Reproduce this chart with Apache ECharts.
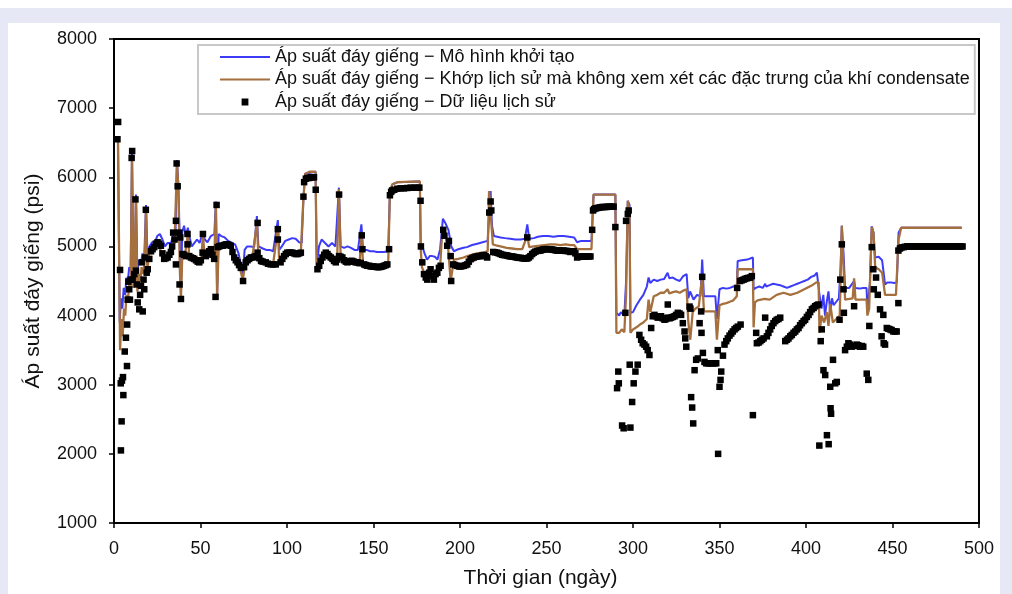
<!DOCTYPE html>
<html><head><meta charset="utf-8">
<script src="https://cdn.jsdelivr.net/npm/echarts@6/dist/echarts.min.js"></script>
<style>
html,body{margin:0;padding:0;background:#fff;width:1012px;height:594px;overflow:hidden;}
#bg{position:absolute;left:0;top:8px;width:1012px;height:586px;background:#e6e9f5;}
#panel{position:absolute;left:8px;top:23px;width:992px;height:571px;background:#fff;}
#chart{position:absolute;left:0;top:0;width:1012px;height:594px;}
</style></head><body>
<div id="bg"></div><div id="panel"></div><div id="chart"></div>
<script>
const xTicks = [0,50,100,150,200,250,300,350,400,450,500];
const yTicks = [1000,2000,3000,4000,5000,6000,7000,8000];
const seriesNames = [
  'Áp suất đáy giếng − Mô hình khởi tạo',
  'Áp suất đáy giếng − Khớp lịch sử mà không xem xét các đặc trưng của khí condensate',
  'Áp suất đáy giếng − Dữ liệu lịch sử'
];
const xTitle = 'Thời gian (ngày)';
const yTitle = 'Áp suất đáy giếng (psi)';

// [day, psi]
const initialModel = [
[1,6550],[2.3,6550],[3.3,3900],[4,4250],[4.8,4100],[5.6,4400],[6.4,4300],[7.2,4550],[8,4500],[8.8,4700],[9.6,4650],[10.4,6350],[11.2,4700],[12,4650],[12.7,5750],[13.5,4650],[14.5,4800],[15.5,4750],[16.5,4900],[17.5,4850],[18.5,5600],[19.3,4900],[20.5,5000],[22,5060],[23.5,5050],[25,5150],[26.5,5180],[28,5100],[29.5,5000],[31,5050],[33,5050],[34.5,5200],[35.5,5150],[36.4,6250],[37.2,5900],[38,5100],[38.7,4300],[39.4,5200],[40.5,5300],[41.5,5150],[42.7,5270],[43.5,5150],[45,5000],[46.5,5050],[48,5100],[49.5,5050],[51.4,5210],[52.5,5100],[54,5060],[56,5150],[58,5180],[58.9,5650],[59.6,4300],[60.5,5180],[62,5150],[64,5130],[66,5080],[68,5050],[70,5030],[72,4900],[74.5,4600],[75.5,4950],[77,5000],[79,5000],[81,4990],[82.6,5440],[83.5,5000],[86,4970],[88,4950],[90,4950],[92,4930],[94.7,5380],[95.5,4950],[97,5000],[99,5080],[101,5100],[103,5120],[105,5110],[107,5060],[108.5,5050],[109.5,5700],[110.5,6050],[116.5,6080],[117.2,4720],[118.5,5000],[120,5100],[122,5050],[124,5000],[126,5050],[128,5000],[130,5850],[131,5000],[133,4980],[135,5000],[137,4980],[139,4950],[141,4950],[143,5320],[144,4950],[146,4950],[148,4930],[150,4930],[152,4920],[154,4920],[156,4920],[158.5,4930],[159.5,5800],[161,5900],[164,5930],[176.8,5940],
[177.3,4960],[178.5,4980],[179.5,4900],[181,4810],[182.5,4860],[184,4860],[185.5,4850],[187,4810],[188.5,4960],[190.1,5400],[191.5,5340],[193.3,5240],[195,5000],[196.5,4930],[199,4960],[202,4980],[204,4990],[207,5020],[210,5040],[213,5060],[216,5080],[217.7,5800],[218.5,5300],[219.6,5150],[221.5,5140],[223.4,5130],[226,5120],[229,5110],[232,5100],[235,5100],[237.5,5110],[238.9,5320],[240,5110],[242.7,5120],[245,5140],[248,5150],[251,5150],[254,5140],[257,5150],[260,5150],[263,5140],[266,5130],[267.7,5060],[270,5080],[273,5080],[276,5080],[276.6,5400],[277.2,5750],[289.8,5750],
[290.4,4040],[292,4000],[293,4050],[295,4000],[296,4500],[297,5660],[298,5600],[298.5,4040],[300,4050],[302,4150],[304,4230],[306,4300],[308,4420],[309,4550],[310,4470],[312,4520],[314,4500],[316,4520],[318,4530],[320,4620],[321,4540],[323,4550],[325,4520],[327,4500],[329,4570],[331,4600],[332,4250],[333,4350],[335,4230],[337,4300],[339,4280],[340,4810],[341,4280],[343,4280],[345,4280],[347.6,4280],[348.5,3950],[350,4380],[352,4400],[354,4390],[356,4400],[358,4420],[360,4420],
[360.5,4790],[363,4800],[366,4810],[369.3,4840],[369.7,4380],[371,4400],[373,4420],[375,4400],[376.4,4460],[377,4420],[379,4440],[381,4460],[383,4450],[385,4440],[387,4420],[389,4400],[391,4420],[393,4440],[395,4460],[397,4480],[399,4500],[401,4520],[403,4560],[405,4580],[406.3,4620],[407.3,4620],[407.8,4300],[409,4100],[410,4300],[411,4000],[412,4200],[413,4350],[414,4050],[415,4250],[416,4150],[417.5,4200],[419,4250],[420,4700],[420.7,5300],[421.7,4900],[422.6,4400],[425,4400],[427.8,4500],[428.5,4400],[431,4390],[433,4400],[435,4400],[435.5,4050],[437,4500],[438,5290],[439,5200],[440,4840],[442,4850],[444,4800],[445.7,4450],[447,4480],[449,4480],[451,4470],[452.5,4480],[453.5,5200],[455,5270],[490,5270]
];

const historyMatch = [
[1,6550],[2.3,6550],[3.5,3500],[4.3,3950],[5,3700],[5.8,4100],[6.5,4000],[7.2,4300],[8,4200],[8.8,4450],[9.6,4350],[10.4,6300],[11.2,4400],[11.8,4600],[12.7,5700],[13.5,4350],[14.3,4600],[15.2,4500],[16,4700],[17,4600],[17.8,4800],[18.5,5550],[19.3,4650],[20.2,4900],[21.5,4900],[23,4970],[24.5,5020],[26,4990],[27.5,4920],[29,4840],[30.5,4860],[32,4920],[33.5,5000],[35,5050],[36.4,6200],[37.2,5850],[38,4700],[38.7,4250],[39.5,4900],[41,4870],[42.7,5180],[43.5,4860],[45,4830],[47,4810],[49,4780],[50.5,4820],[51.4,5180],[52.3,4880],[54,4910],[56,4940],[58,4850],[58.9,5600],[59.6,4280],[60.5,5000],[62,5010],[64,5030],[66,5030],[68,4950],[70,4810],[72,4750],[74.5,4520],[76,4780],[78,4830],[80,4850],[82.6,5340],[83.5,4850],[86,4790],[89,4760],[92,4750],[94.7,5250],[95.5,4790],[98,4870],[100,4920],[102,4920],[104,4910],[106,4900],[108,4920],[109.5,5700],[110.5,6050],[113,6080],[116.5,6080],[117.2,4690],[119,4800],[121,4890],[123,4900],[125,4850],[127,4800],[129,4810],[130,5830],[131,4860],[133,4810],[136,4790],[139,4780],[142,4770],[143,5160],[144,4750],[147,4730],[150,4720],[153,4710],[156,4720],[158.5,4750],[159.5,5800],[161,5900],[164,5930],[176.8,5940],
[177.3,4960],[178,4700],[179.2,4620],[181,4600],[182.5,4640],[184,4580],[185.5,4620],[187,4640],[188.5,4700],[189.8,5250],[191.5,5150],[193,5030],[194.6,4500],[196.5,4810],[199,4820],[202,4840],[204.2,4860],[207,4880],[210,4900],[213,4910],[216,4930],[216.8,5800],[217.8,5800],[219,5030],[221.5,5010],[223.4,5000],[227,4980],[230,4970],[233,4960],[236,4960],[238.9,5160],[240,4990],[242.7,5000],[246,5010],[249,5020],[252,5030],[255,5030],[258,5020],[261,5030],[264,5020],[266,5020],[267.7,4960],[270,4960],[273,4960],[276,4960],[276.6,5400],[277.2,5750],[289.8,5750],
[290.4,3750],[292,3750],[293.5,3800],[295,3760],[296,4300],[297,5660],[298,5500],[298.5,3750],[300,3800],[302,3830],[304,3870],[306,3900],[308,3950],[309,4230],[310,4050],[312,4280],[314,4300],[316,4330],[318,4330],[320,4380],[321,4320],[323,4340],[325,4350],[327,4330],[329,4360],[331,4380],[332,3900],[333.1,3650],[334.5,4050],[336,4100],[338,4130],[340,4560],[341,4060],[343,4060],[345,4060],[347.6,4060],[348.5,3650],[350,4150],[352,4170],[354,4180],[356,4200],[358,4220],[360,4280],
[360.5,4670],[369.3,4670],[369.7,3830],[370.5,4190],[372,4220],[376,4240],[379,4230],[383,4300],[387,4330],[391,4300],[395,4330],[399,4380],[403,4430],[406,4480],[407.3,4480],[407.8,3750],[409,4000],[410.5,3900],[412,4050],[413,3850],[414,4170],[415.5,3900],[417.5,3950],[419.5,4000],[420.7,5300],[421.5,4800],[422.6,4230],[425,4240],[427,4250],[427.8,4540],[428.6,4230],[431,4230],[435,4230],[435.5,4000],[436.5,4100],[438,5280],[439,5200],[440,4700],[442,4670],[444,4620],[445.7,4300],[448,4300],[452,4300],[453.5,5100],[455,5270],[490,5270]
];

const historicalData = [
[2.0,6550],[2.4,6800],[3.5,4660],[3.9,3020],[4.0,2050],[4.4,2470],[4.6,3060],[5.2,3110],[5.4,2850],[6.2,3480],[6.9,3680],[7.5,3270],[7.6,3870],[7.9,4230],[8.3,4490],[8.8,4380],[9.2,4230],[9.6,4520],[10.2,6280],[10.5,6380],[10.8,4520],[11.7,4600],[12.4,5680],[12.7,4650],[13.2,4450],[13.7,4190],[14.6,4090],[15.1,4300],[15.6,4430],[16.0,4770],[16.6,4060],[17.1,4520],[17.5,4380],[17.9,4840],[18.4,5530],[18.9,4620],[19.5,4670],[20.4,4820],[21.4,4930],
[22.3,4960],[23.3,4990],[24.2,5040],[25.2,5060],[26.1,5040],[27.1,5010],[28,4900],[29,4820],[30,4830],[31,4840],[32,4880],[32.9,4920],[33.6,5000],[34.2,5200],[35,5100],[35.8,5370],[35.8,4740],[36.2,6200],[36.8,5870],[37.7,5200],[37.9,4450],[38.3,5130],[38.7,4240],[39.6,4890],[40.6,4880],[41.6,4860],[42.5,5180],[42.5,5030],[43.5,4860],[44.5,4840],[45.5,4830],[46.4,4820],[47.4,4800],[48.4,4780],[49.3,4770],[50.2,4800],[51.2,4910],[51.4,5180],[52.2,4900],[53.1,4860],[54.1,4900],[55,4930],[56,4960],[56.9,4880],[57.9,4820],[58.7,4270],[59.3,5600],[59.9,4990],[60.8,5000],[61.8,5010],[62.8,5010],[63.7,5020],[64.7,5030],[65.6,5030],[66.6,5020],[67.5,5010],[68.5,4920],[69.5,4840],[70.4,4800],[71.4,4770],[72.3,4730],[73.3,4690],[74.6,4500],[75.2,4700],[76.2,4770],[77.2,4800],[78.1,4820],[79.1,4840],[80.1,4840],[81.1,4850],[82,4860],[83,5340],[83,4910],
[84,4830],[85,4790],[86,4780],[87.7,4770],[89,4750],[90.6,4740],[92,4740],[93.5,4740],[94.7,5250],[94.7,5100],[96.3,4770],[97.3,4820],[98.3,4860],[99.3,4890],[100.2,4910],[101.2,4910],[102.2,4910],[103.1,4910],[104.1,4900],[105.1,4890],[106.1,4890],[107,4900],[108,4910],[109.5,5720],[109.9,5930],[110.9,5980],[111.8,5990],[112.8,5990],[113.7,6000],[114.7,6000],[115.6,6000],[116.6,5820],[117.6,4670],[118.6,4720],[119.5,4790],[120.5,4840],[121.5,4880],[122.4,4910],[123.4,4890],[124.3,4860],[125.3,4840],[126.3,4820],[127.2,4790],[128.2,4770],[129.1,4810],[130.1,5750],[130.1,4860],[131,4850],[132,4840],[133,4800],[134,4780],[134.9,4770],[135.9,4780],[136.8,4790],[137.7,4790],[138.7,4780],[139.7,4770],[140.7,4770],[141.7,4760],[142.6,4760],[143.2,5160],[143.6,4960],[144.6,4740],[145.5,4730],[146.5,4720],[147.5,4720],[148.4,4710],[149.4,4710],[150.3,4710],[151.3,4705],[152.3,4700],[153.2,4700],[154.2,4705],[155.1,4710],[156.1,4720],[157.1,4730],[158,4740],[159,4960],[159.5,5740],[160.2,5790],[160.8,5810],[162,5820],[163.8,5835],[165.7,5840],[167.6,5840],[169.5,5845],[171.5,5850],[173.4,5850],[175.3,5850],[176.5,5850],[177.2,5660],[177.4,5000],
[178.2,4770],[179.2,4600],[180.2,4550],[181.1,4520],[182.1,4620],[183,4670],[184,4570],[184.9,4520],[185.9,4600],[186.9,4620],[187.8,4690],[188.8,4720],[190.3,5240],[191,5155],[192.6,5010],[193.6,5080],[194.6,4860],[194.9,4500],[196.1,4740],[197.2,4730],[198.4,4720],[199.4,4710],[200.3,4710],[201.2,4715],[202.2,4720],[203.2,4730],[204.2,4740],[205.1,4780],[206.1,4815],[207,4830],[208,4840],[209,4850],[210,4855],[211,4860],[211.9,4860],[212.9,4870],[213.8,4875],[214.8,4860],[215.7,4840],[216.9,5490],[217.7,5650],[218.1,5520],[219.2,4920],[220.3,4915],[221.5,4910],[222.4,4900],[223.4,4890],[224.4,4880],[225.4,4875],[226.3,4872],[227.3,4870],[228.2,4860],[229.2,4855],[230.2,4855],[231.1,4850],[232.1,4845],[233,4840],[234,4835],[235,4835],[236,4830],[236.9,4825],[237.9,4825],[238.9,5130],[238.9,4825],[239.8,4840],[240.7,4860],[241.7,4890],[242.7,4910],[243.6,4925],[244.6,4935],[245.6,4940],[246.5,4940],[247.5,4950],[248.4,4960],[249.4,4960],[250.3,4960],[251.3,4960],[252.3,4960],[253.2,4955],[254.2,4950],[255.2,4945],[256.1,4940],[257.1,4940],[258,4940],[259,4940],[260,4940],[260.9,4935],[261.9,4935],[262.9,4930],[263.8,4920],[264.8,4925],[265.8,4930],[266.7,4900],[267.7,4840],[268.6,4850],[269.6,4850],[270.5,4855],[271.5,4855],[272.4,4855],[273.4,4855],[274.4,4855],[275.4,4855],[276.4,5240],[276.9,5520],[277.5,5540],[278.3,5550],[279.2,5555],[280.2,5560],[281.1,5565],[282.1,5570],[283,5570],[284,5570],[285,5572],[285.9,5575],[286.9,5575],[287.8,5575],[288.8,5575],[289.8,5280],
[290.8,2950],[291.5,3190],[291.8,3020],[293.7,2410],[294.6,2370],[295.6,4040],[296,5370],[297,5470],[297.5,5520],[298.1,3290],[298.5,2380],[299.5,2750],[300.4,3020],[301.4,3190],[302.7,3290],[303.7,3720],[304.7,3650],[305.6,3600],[306.6,3580],[307.6,3550],[308.5,3500],[309.5,3430],[310.5,3820],[311.4,3990],[312.4,4010],[313.3,3990],[314.3,3970],[315.3,3980],[316.2,3990],[317.2,3960],[318.2,3940],[319.1,3950],[320.1,4160],[320.1,3970],[321.1,3960],[322,3970],[323,3980],[324,3990],[324.9,4010],[325.9,4040],[326.9,4030],[327.8,4010],[328.8,3890],[329.8,3770],[330.2,3670],[330.8,3550],[332.7,4130],[333.2,4100],[333.6,2820],[334.2,2670],[334.8,2440],[335.6,3210],[336.5,3360],[337.5,3380],[338.5,3890],[339.4,4060],[339.6,3750],[340,4560],[340.4,3460],[341.3,3330],[342.3,3310],[343.3,3310],[344.2,3310],[345.2,3310],[346.2,3310],[347.1,3310],[348.1,3310],[349,3500],[349.2,2000],[350,2970],[350.6,3070],[351,3190],[352,3420],[352.9,3580],[353.9,3630],[354.8,3670],[355.8,3710],[356.8,3740],[357.7,3770],[358.7,3800],[359.6,3820],[360.2,4400],[360.6,3840],[361.9,4500],[362.2,3870],
[362.9,4510],[363.9,4520],[364.8,4530],[365.8,4540],[366.7,4545],[367.7,4550],[368.7,4570],[369.3,2560],[371.2,3750],[371.6,3600],[372.6,3610],[373.6,3630],[374.5,3650],[375.5,3670],[376.4,3970],[377.4,3700],[378.3,3750],[379.3,3800],[380.2,3850],[381.2,3890],[382.2,3920],[383.1,3940],[384.1,3950],[385.1,3970],[388,3630],[389,3650],[389.9,3670],[390.9,3700],[391.8,3720],[392.8,3750],[393.8,3770],[394.7,3800],[395.7,3820],[396.6,3860],[397.6,3890],[398.6,3920],[399.5,3940],[400.5,3980],[401.5,4010],[402.4,4050],[403.4,4090],[404.4,4110],[405.3,4135],[406.3,4150],[407.2,4160],[407.7,2120],[408.5,3630],[409.1,3800],[410.1,3210],[411.1,3140],[412.1,2270],[413.1,2140],[414,2970],[414.2,2660],[414.5,2580],[415.6,3360],[416.9,3020],[417.8,3040],[419.4,3940],[419.8,4520],[420.7,5030],[421.7,4380],[421.9,4040],[422.6,3500],[423.6,3550],[424.5,3600],[425.5,3580],[426.4,3550],[427.8,4135],[428.3,3560],[429.3,3580],[430.2,3570],[431.2,3550],[432.2,3560],[433.1,3550],[435.1,3160],[436,3070],[436.6,3850],[438,4990],[438.9,4670],[439.2,4380],[440.5,4550],[441.5,4300],[442.8,4090],[443.7,3700],[444.7,4010],[444.9,3600],[445.7,3580],[446.7,3820],[447.6,3810],[448.6,3800],[449.5,3790],[450.5,3770],[451.5,3770],[452.4,3770],[453.4,4180],[453.4,4940],[454.3,4970],[455.3,4985],[456.5,4990],[457.5,4995],[458.5,5000],[459.5,5000],[460.5,5000],[461.5,5000],[462.5,5000],[463.5,5000],[464.5,5000],[465.5,5000],[466.5,5000],[467.5,5000],[468.5,5000],[469.5,5000],[470.5,5000],[471.5,5000],[472.5,5000],[473.5,5000],[474.5,5000],[475.5,5000],[476.5,5000],[477.5,5000],[478.5,5000],[479.5,5000],[480.5,5000],[481.5,5000],[482.5,5000],[483.5,5000],[484.5,5000],[485.5,5000],[486.5,5000],[487.5,5000],[488.5,5000],[489.5,5000],[490.5,5000]
];

const FONT = '"Liberation Sans", Arial, sans-serif';
const chart = echarts.init(document.getElementById('chart'), null, {renderer: 'canvas'});
chart.setOption({
  animation: false,
  backgroundColor: 'transparent',
  textStyle: {fontFamily: FONT},
  grid: {left: 114, right: 33, top: 39, bottom: 70, show: true, borderColor: '#000', borderWidth: 2, backgroundColor: 'transparent'},
  legend: {
    orient: 'vertical', left: 198, top: 45,
    padding: [3, 5, 3, 22], itemGap: 4.5, itemWidth: 50, itemHeight: 14,
    borderColor: '#c8c8c8', borderWidth: 2, backgroundColor: '#fff',
    textStyle: {fontSize: 18, color: '#111', fontFamily: FONT},
    data: [
      {name: seriesNames[0], icon: 'path://M0,0h50v2h-50z'},
      {name: seriesNames[1], icon: 'path://M0,0h50v2h-50z'},
      {name: seriesNames[2], icon: 'path://M0,0h0.01v0.01h-0.01zM3.6,3.6h6.8v6.8h-6.8zM13.99,13.99h0.01v0.01h-0.01z'}
    ]
  },
  xAxis: {
    type: 'value', min: xTicks[0], max: xTicks[xTicks.length-1], interval: xTicks[1]-xTicks[0],
    name: xTitle, nameLocation: 'middle', nameGap: 45,
    nameTextStyle: {fontSize: 21, color: '#111', fontFamily: FONT, padding: [0, 12, 0, 0]},
    axisLine: {lineStyle: {color: '#000', width: 2}},
    axisTick: {show: true, inside: false, length: 5, lineStyle: {color: '#000', width: 1.5}},
    axisLabel: {fontSize: 18, color: '#111', margin: 17, fontFamily: FONT, formatter: v => String(v)},
    splitLine: {show: false}
  },
  yAxis: {
    type: 'value', min: yTicks[0], max: yTicks[yTicks.length-1], interval: yTicks[1]-yTicks[0],
    name: yTitle, nameLocation: 'middle', nameGap: 70, nameRotate: 90,
    nameTextStyle: {fontSize: 21, color: '#111', fontFamily: FONT},
    axisLine: {lineStyle: {color: '#000', width: 2}},
    axisTick: {show: true, inside: false, length: 5, lineStyle: {color: '#000', width: 1.5}},
    axisLabel: {fontSize: 18, color: '#111', margin: 17, fontFamily: FONT, formatter: v => String(v)},
    splitLine: {show: false}
  },
  series: [
    {name: seriesNames[0], type: 'line', data: initialModel, symbol: 'none', color: '#3c3cf8',
     lineStyle: {color: '#3c3cf8', width: 2}, z: 2},
    {name: seriesNames[1], type: 'line', data: historyMatch, symbol: 'none', color: '#a6703e',
     lineStyle: {color: '#a6703e', width: 2.3}, z: 3},
    {name: seriesNames[2], type: 'scatter', data: historicalData, symbol: 'rect', symbolSize: 6.5,
     color: '#000', itemStyle: {color: '#000', opacity: 1}, z: 4}
  ]
});
</script></body></html>
